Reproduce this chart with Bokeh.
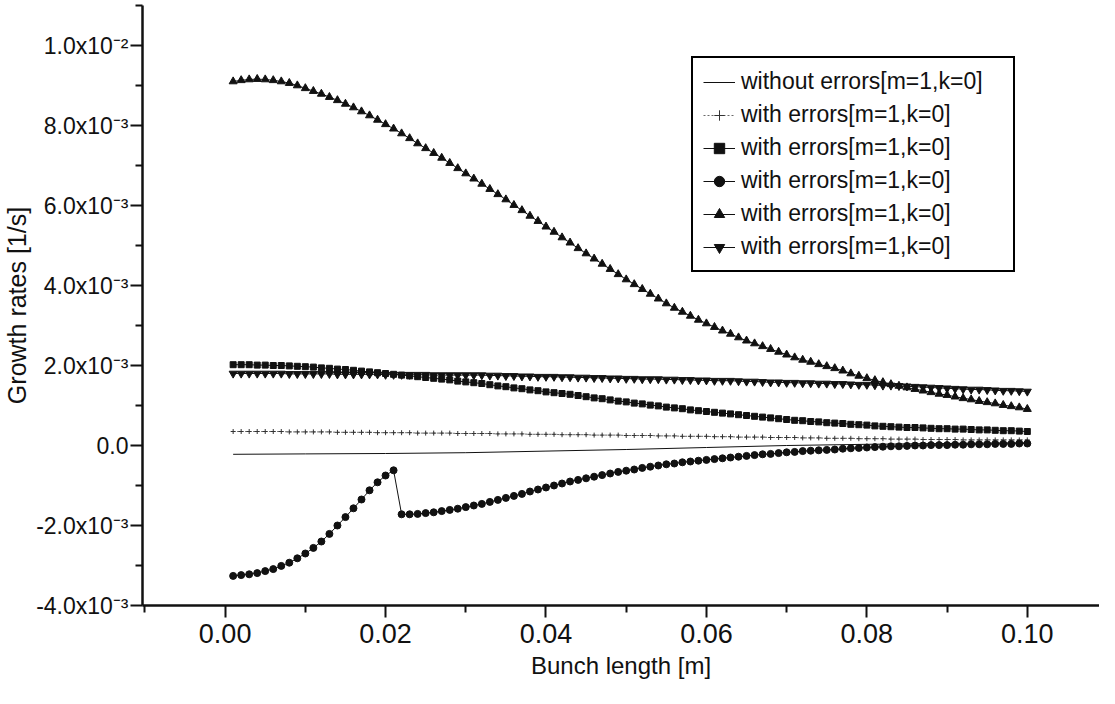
from bokeh.plotting import figure
from bokeh.models import FixedTicker, Legend, LegendItem
from bokeh.embed import file_html
from bokeh.resources import INLINE

# ---------------- data (growth rates in units of 1e-3 1/s) ----------------
UNIT = 1e-3
bunch_length = [round(0.001 * i, 3) for i in range(1, 101)]  # 0.001 ... 0.100 m

without_err_x = [0.001, 0.010, 0.020, 0.030, 0.040, 0.050, 0.060, 0.070, 0.080, 0.090, 0.100]
without_err = [-0.22, -0.21, -0.20, -0.18, -0.14, -0.10, -0.05, 0.00, 0.03, 0.05, 0.07]

err_cross = [0.35, 0.35, 0.35, 0.35, 0.35, 0.35, 0.35, 0.34, 0.34, 0.34,
             0.34, 0.34, 0.34, 0.33, 0.33, 0.33, 0.33, 0.33, 0.32, 0.32,
             0.32, 0.32, 0.32, 0.31, 0.31, 0.31, 0.31, 0.31, 0.30, 0.30,
             0.30, 0.30, 0.30, 0.29, 0.29, 0.29, 0.29, 0.28, 0.28, 0.28,
             0.28, 0.27, 0.27, 0.27, 0.27, 0.26, 0.26, 0.26, 0.26, 0.25,
             0.25, 0.25, 0.25, 0.24, 0.24, 0.24, 0.23, 0.23, 0.23, 0.23,
             0.22, 0.22, 0.22, 0.21, 0.21, 0.21, 0.21, 0.20, 0.20, 0.20,
             0.20, 0.19, 0.19, 0.19, 0.18, 0.18, 0.18, 0.18, 0.17, 0.17,
             0.17, 0.17, 0.16, 0.16, 0.16, 0.16, 0.15, 0.15, 0.15, 0.15,
             0.15, 0.14, 0.14, 0.14, 0.14, 0.14, 0.14, 0.14, 0.14, 0.14]

err_square = [2.02, 2.02, 2.02, 2.01, 2.01, 2.00, 2.00, 1.99, 1.98, 1.97,
              1.96, 1.94, 1.93, 1.91, 1.90, 1.88, 1.86, 1.84, 1.82, 1.80,
              1.78, 1.76, 1.74, 1.72, 1.70, 1.68, 1.66, 1.64, 1.61, 1.59,
              1.57, 1.55, 1.52, 1.49, 1.47, 1.44, 1.42, 1.39, 1.37, 1.34,
              1.32, 1.30, 1.28, 1.25, 1.22, 1.19, 1.17, 1.14, 1.11, 1.09,
              1.06, 1.04, 1.01, 0.99, 0.96, 0.94, 0.92, 0.89, 0.87, 0.85,
              0.83, 0.81, 0.79, 0.77, 0.75, 0.73, 0.71, 0.69, 0.67, 0.65,
              0.63, 0.62, 0.60, 0.59, 0.57, 0.56, 0.55, 0.53, 0.52, 0.51,
              0.49, 0.48, 0.47, 0.46, 0.45, 0.45, 0.44, 0.43, 0.42, 0.42,
              0.41, 0.41, 0.40, 0.39, 0.39, 0.38, 0.37, 0.37, 0.36, 0.35]

err_circle = [-3.26, -3.24, -3.22, -3.19, -3.14, -3.09, -3.01, -2.93, -2.82, -2.70,
              -2.56, -2.40, -2.21, -2.00, -1.79, -1.57, -1.35, -1.12, -0.92, -0.75,
              -0.62, -1.72, -1.72, -1.71, -1.69, -1.67, -1.64, -1.61, -1.58, -1.54,
              -1.50, -1.46, -1.41, -1.36, -1.31, -1.26, -1.21, -1.15, -1.10, -1.05,
              -1.00, -0.95, -0.90, -0.86, -0.82, -0.78, -0.74, -0.70, -0.66, -0.63,
              -0.60, -0.56, -0.53, -0.50, -0.47, -0.45, -0.42, -0.40, -0.38, -0.36,
              -0.34, -0.32, -0.30, -0.28, -0.26, -0.24, -0.22, -0.21, -0.19, -0.17,
              -0.16, -0.14, -0.13, -0.12, -0.11, -0.10, -0.08, -0.07, -0.06, -0.05,
              -0.04, -0.03, -0.02, -0.02, -0.01, 0.00, 0.00, 0.01, 0.01, 0.01,
              0.02, 0.02, 0.03, 0.03, 0.03, 0.04, 0.04, 0.04, 0.05, 0.05]

err_tri_up = [9.10, 9.13, 9.15, 9.16, 9.15, 9.13, 9.10, 9.06, 9.00, 8.93,
              8.86, 8.79, 8.71, 8.63, 8.54, 8.45, 8.35, 8.25, 8.14, 8.03,
              7.92, 7.80, 7.68, 7.55, 7.43, 7.31, 7.19, 7.06, 6.93, 6.80,
              6.67, 6.54, 6.41, 6.28, 6.15, 6.01, 5.88, 5.74, 5.61, 5.47,
              5.34, 5.20, 5.07, 4.93, 4.80, 4.67, 4.54, 4.41, 4.28, 4.15,
              4.03, 3.91, 3.79, 3.67, 3.55, 3.44, 3.34, 3.24, 3.14, 3.05,
              2.96, 2.87, 2.79, 2.70, 2.62, 2.55, 2.48, 2.41, 2.34, 2.27,
              2.20, 2.14, 2.09, 2.03, 1.98, 1.93, 1.87, 1.80, 1.74, 1.68,
              1.63, 1.58, 1.53, 1.49, 1.45, 1.41, 1.37, 1.33, 1.29, 1.26,
              1.22, 1.18, 1.15, 1.11, 1.08, 1.05, 1.01, 0.98, 0.95, 0.91]

err_tri_down = [1.80, 1.80, 1.80, 1.80, 1.80, 1.80, 1.80, 1.79, 1.79, 1.79,
                1.79, 1.79, 1.79, 1.78, 1.78, 1.78, 1.78, 1.78, 1.78, 1.77,
                1.77, 1.77, 1.77, 1.77, 1.77, 1.76, 1.76, 1.76, 1.76, 1.76,
                1.76, 1.76, 1.75, 1.75, 1.74, 1.74, 1.73, 1.73, 1.72, 1.72,
                1.72, 1.71, 1.71, 1.70, 1.70, 1.69, 1.69, 1.68, 1.68, 1.67,
                1.67, 1.66, 1.66, 1.66, 1.65, 1.65, 1.64, 1.64, 1.63, 1.63,
                1.62, 1.62, 1.62, 1.61, 1.60, 1.60, 1.59, 1.58, 1.58, 1.57,
                1.57, 1.56, 1.56, 1.55, 1.55, 1.54, 1.54, 1.53, 1.52, 1.52,
                1.51, 1.50, 1.50, 1.49, 1.48, 1.47, 1.46, 1.45, 1.44, 1.43,
                1.42, 1.41, 1.40, 1.40, 1.39, 1.38, 1.37, 1.37, 1.36, 1.35]

labels = ["without errors[m=1,k=0]", "with errors[m=1,k=0]", "with errors[m=1,k=0]",
          "with errors[m=1,k=0]", "with errors[m=1,k=0]", "with errors[m=1,k=0]"]

y_ticks = [-0.004, -0.002, 0.0, 0.002, 0.004, 0.006, 0.008, 0.01]
y_tick_labels = ["-4.0x10\u207b\u00b3", "-2.0x10\u207b\u00b3", "0.0", "2.0x10\u207b\u00b3",
                 "4.0x10\u207b\u00b3", "6.0x10\u207b\u00b3", "8.0x10\u207b\u00b3", "1.0x10\u207b\u00b2"]
y_minor = [-0.003, -0.001, 0.001, 0.003, 0.005, 0.007, 0.009, 0.011]
x_ticks = [0.0, 0.02, 0.04, 0.06, 0.08, 0.1]
x_tick_labels = ["0.00", "0.02", "0.04", "0.06", "0.08", "0.10"]
x_minor = [-0.01, 0.01, 0.03, 0.05, 0.07, 0.09]

# ---------------- figure ----------------
FONT = "Liberation Sans"
INK = "#111111"

def sc(vals):
    return [v * UNIT for v in vals]

p = figure(width=1099, height=688, x_range=(-0.0103, 0.109), y_range=(-0.004, 0.011),
           output_backend="svg", toolbar_location=None,
           min_border_left=140, min_border_right=0, min_border_top=5, min_border_bottom=83)
p.outline_line_color = None
p.xgrid.visible = False
p.ygrid.visible = False
p.background_fill_color = "white"
p.border_fill_color = "white"

r0 = p.line(without_err_x, sc(without_err), line_color=INK, line_width=1)

r1l = p.line(bunch_length, sc(err_cross), line_color="#444444", line_width=0.8, line_dash="2 2")
r1s = p.scatter(bunch_length, sc(err_cross), marker="cross", size=5, line_color="#333333", line_width=1)

r2l = p.line(bunch_length, sc(err_square), line_color=INK, line_width=1)
r2s = p.scatter(bunch_length, sc(err_square), marker="square", size=6, fill_color=INK, line_color=INK)

r3l = p.line(bunch_length, sc(err_circle), line_color=INK, line_width=1)
r3s = p.scatter(bunch_length, sc(err_circle), marker="circle", size=7, fill_color=INK, line_color=INK)

r4l = p.line(bunch_length, sc(err_tri_up), line_color=INK, line_width=1)
r4s = p.scatter(bunch_length, sc(err_tri_up), marker="triangle", size=8, fill_color=INK, line_color=INK)

r5l = p.line(bunch_length, sc(err_tri_down), line_color=INK, line_width=1)
r5s = p.scatter(bunch_length, sc(err_tri_down), marker="inverted_triangle", size=8, fill_color=INK, line_color=INK)

legend = Legend(items=[
    LegendItem(label=labels[0], renderers=[r0]),
    LegendItem(label=labels[1], renderers=[r1l, r1s]),
    LegendItem(label=labels[2], renderers=[r2l, r2s]),
    LegendItem(label=labels[3], renderers=[r3l, r3s]),
    LegendItem(label=labels[4], renderers=[r4l, r4s]),
    LegendItem(label=labels[5], renderers=[r5l, r5s]),
], location=(549, 333))
legend.label_text_font = FONT
legend.label_text_font_size = "23px"
legend.label_text_color = INK
legend.glyph_width = 32
legend.glyph_height = 26
legend.label_height = 26
legend.label_width = 262
legend.label_standoff = 6
legend.spacing = 6
legend.padding = 10
legend.margin = 0
legend.border_line_color = "black"
legend.border_line_alpha = 1.0
legend.border_line_width = 2
legend.background_fill_color = "white"
legend.background_fill_alpha = 1.0
p.add_layout(legend)

# axes
xa = p.xaxis[0]
xa.ticker = FixedTicker(ticks=x_ticks, minor_ticks=x_minor)
xa.major_label_overrides = dict(zip(x_ticks, x_tick_labels))
xa.axis_label = "Bunch length [m]"

ya = p.yaxis[0]
ya.ticker = FixedTicker(ticks=y_ticks, minor_ticks=y_minor)
ya.major_label_overrides = dict(zip(y_ticks, y_tick_labels))
ya.axis_label = "Growth rates [1/s]"

for ax in (xa, ya):
    ax.axis_line_color = INK
    ax.axis_line_width = 2.5
    ax.major_tick_line_color = INK
    ax.major_tick_line_width = 2
    ax.minor_tick_line_color = INK
    ax.minor_tick_line_width = 2
    ax.major_tick_out = 12
    ax.major_tick_in = 0
    ax.minor_tick_out = 7
    ax.minor_tick_in = 0
    ax.major_label_text_font = FONT
    ax.major_label_text_color = INK
    ax.axis_label_text_font = FONT
    ax.axis_label_text_font_style = "normal"
    ax.axis_label_text_color = INK

xa.major_label_text_font_size = "27px"
xa.major_label_standoff = 6
xa.axis_label_text_font_size = "24px"
xa.axis_label_standoff = 6
ya.major_label_text_font_size = "23px"
ya.major_label_standoff = 2
ya.axis_label_text_font_size = "25px"
ya.axis_label_standoff = 2

open("out.html", "w").write(file_html(p, INLINE))
